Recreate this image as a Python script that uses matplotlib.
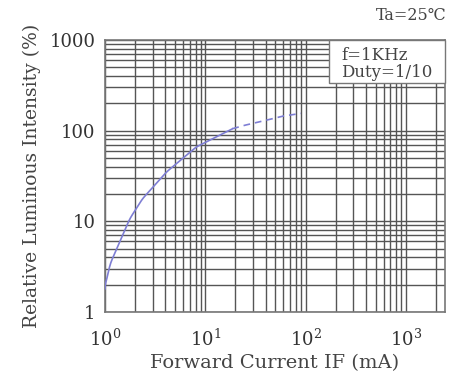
import numpy as np
import matplotlib
matplotlib.use("Agg")
import matplotlib.pyplot as plt
from matplotlib.ticker import LogLocator, FixedLocator, NullFormatter
from matplotlib.patches import Rectangle

plt.rcParams['font.family'] = ['DejaVu Serif', 'DejaVu Sans']
plt.rcParams['mathtext.fontset'] = 'dejavuserif'

# Solid part of the curve
if_solid = [1.0, 1.1, 1.3, 1.75, 2.35, 4.1, 8.1, 18.6]
iv_solid = [1.8, 3.2, 4.9, 10.5, 17.6, 35, 66, 105]
# Dashed part (extrapolated region)
if_dash = [18.6, 25, 40, 60, 90]
iv_dash = [105, 115, 130, 145, 155]

x_ticks = [1, 10, 100, 1000]
x_ticklabels = [r'$10^0$', r'$10^1$', r'$10^2$', r'$10^3$']
y_ticks = [1, 10, 100, 1000]
y_ticklabels = ['1', '10', '100', '1000']

fig = plt.figure(figsize=(4.5, 3.82), dpi=100)
ax = fig.add_axes([105/450, 1-312/382, (445-105)/450, (312-40)/382])
ax.set_xscale('log')
ax.set_yscale('log')
ax.set_xlim(1, 10**3.39)
ax.set_ylim(1, 1000)

def smooth(xs, ys):
    lx = np.log10(xs); ly = np.log10(ys)
    t = np.linspace(lx[0], lx[-1], 200)
    y = np.interp(t, lx, ly)
    k = 9
    yp = np.convolve(np.pad(y, k//2, mode='edge'), np.ones(k)/k, mode='valid')
    yp[0] = ly[0]; yp[-1] = ly[-1]
    return 10**t, 10**yp

sx, sy = smooth(if_solid, iv_solid)
ax.plot(sx, sy, color='#7e7ed4', lw=1.2, zorder=3)
ax.plot(if_dash, iv_dash, color='#7e7ed4', lw=1.2, ls=(0, (4, 3)), zorder=3)

ax.xaxis.set_major_locator(FixedLocator(x_ticks))
ax.yaxis.set_major_locator(FixedLocator(y_ticks))
ax.xaxis.set_minor_locator(LogLocator(base=10, subs=np.arange(2, 10), numticks=20))
ax.yaxis.set_minor_locator(LogLocator(base=10, subs=np.arange(2, 10), numticks=20))
ax.xaxis.set_minor_formatter(NullFormatter())
ax.yaxis.set_minor_formatter(NullFormatter())
ax.set_xticklabels(x_ticklabels)
ax.set_yticklabels(y_ticklabels)
ax.tick_params(which='both', length=0, labelsize=13, colors='#333333')
ax.tick_params(axis='y', pad=7)
ax.tick_params(axis='x', pad=12)
ax.grid(which='both', color='#555555', lw=1.0)
ax.set_axisbelow(True)
for s in ax.spines.values():
    s.set_color('#777777')
    s.set_linewidth(1.2)

ax.set_xlabel('Forward Current IF (mA)', fontsize=14, color='#444444', labelpad=3)
ax.set_ylabel('Relative Luminous Intensity (%)', fontsize=13.5, color='#444444', labelpad=6)

# parameter box in the top-right corner of the plot
ax.add_patch(Rectangle((0.66, 0.842), 0.34, 0.158, transform=ax.transAxes,
                       fc='white', ec='#777777', lw=1.0, zorder=4, clip_on=False))
ax.text(0.695, 0.975, 'f=1KHz\nDuty=1/10', transform=ax.transAxes, ha='left', va='top',
        fontsize=12, color='#444444', linespacing=1.05, zorder=5)
fig.text(447/450, 1-15/382, 'Ta=25\u2103', ha='right', va='center', fontsize=11.5, color='#444444')

fig.savefig('out.png', dpi=100)
